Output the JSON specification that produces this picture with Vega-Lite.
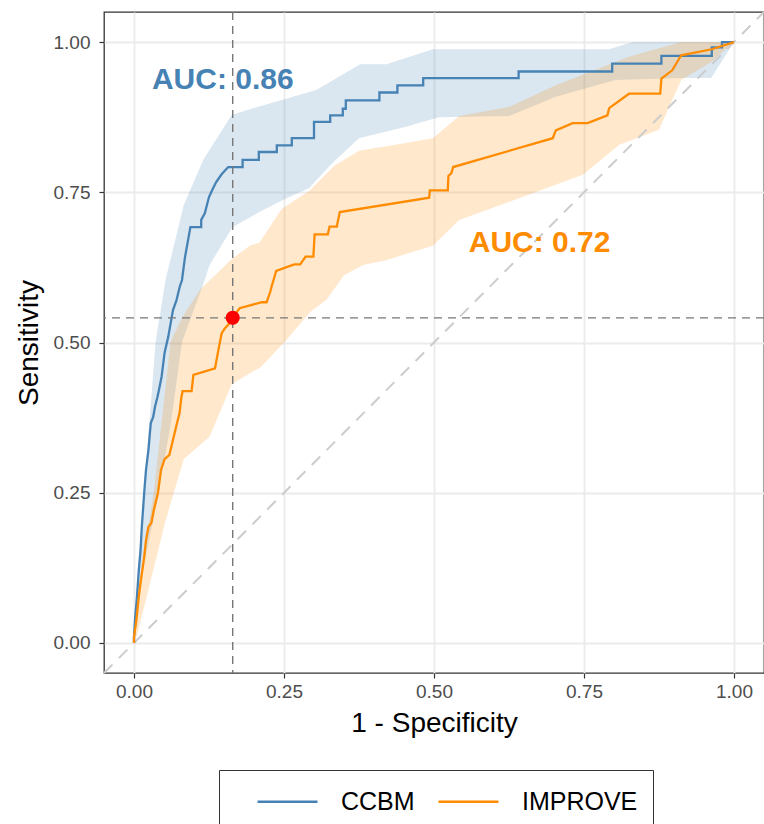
{
"$schema": "https://vega.github.io/schema/vega-lite/v6.json",
"width": 660, "height": 661,
"autosize": {"type": "none"},
"padding": {"left": 104, "top": 12, "right": 0, "bottom": 151},
"background": "white",
"config": {"font": "Liberation Sans", "view": {"stroke": "#333333", "strokeWidth": 1.3}},
"datasets": {
"roc": [
{"model":"CCBM","i":0,"x":0,"y":0},{"model":"CCBM","i":1,"x":0,"y":0.01},{"model":"CCBM","i":2,"x":0.002,"y":0.043},{"model":"CCBM","i":3,"x":0.005,"y":0.077},{"model":"CCBM","i":4,"x":0.008,"y":0.121},{"model":"CCBM","i":5,"x":0.011,"y":0.155},{"model":"CCBM","i":6,"x":0.013,"y":0.193},{"model":"CCBM","i":7,"x":0.017,"y":0.25},{"model":"CCBM","i":8,"x":0.02,"y":0.288},{"model":"CCBM","i":9,"x":0.024,"y":0.321},{"model":"CCBM","i":10,"x":0.028,"y":0.366},{"model":"CCBM","i":11,"x":0.032,"y":0.376},{"model":"CCBM","i":12,"x":0.035,"y":0.393},{"model":"CCBM","i":13,"x":0.039,"y":0.409},{"model":"CCBM","i":14,"x":0.041,"y":0.418},{"model":"CCBM","i":15,"x":0.046,"y":0.443},{"model":"CCBM","i":16,"x":0.051,"y":0.483},{"model":"CCBM","i":17,"x":0.057,"y":0.509},{"model":"CCBM","i":18,"x":0.065,"y":0.554},{"model":"CCBM","i":19,"x":0.071,"y":0.571},{"model":"CCBM","i":20,"x":0.076,"y":0.592},{"model":"CCBM","i":21,"x":0.08,"y":0.604},{"model":"CCBM","i":22,"x":0.085,"y":0.642},{"model":"CCBM","i":23,"x":0.094,"y":0.692},{"model":"CCBM","i":24,"x":0.112,"y":0.692},{"model":"CCBM","i":25,"x":0.112,"y":0.704},{"model":"CCBM","i":26,"x":0.118,"y":0.715},{"model":"CCBM","i":27,"x":0.125,"y":0.742},{"model":"CCBM","i":28,"x":0.131,"y":0.755},{"model":"CCBM","i":29,"x":0.137,"y":0.767},{"model":"CCBM","i":30,"x":0.146,"y":0.78},{"model":"CCBM","i":31,"x":0.157,"y":0.792},{"model":"CCBM","i":32,"x":0.181,"y":0.792},{"model":"CCBM","i":33,"x":0.181,"y":0.804},{"model":"CCBM","i":34,"x":0.208,"y":0.804},{"model":"CCBM","i":35,"x":0.208,"y":0.817},{"model":"CCBM","i":36,"x":0.238,"y":0.817},{"model":"CCBM","i":37,"x":0.238,"y":0.828},{"model":"CCBM","i":38,"x":0.263,"y":0.828},{"model":"CCBM","i":39,"x":0.263,"y":0.84},{"model":"CCBM","i":40,"x":0.3,"y":0.84},{"model":"CCBM","i":41,"x":0.3,"y":0.867},{"model":"CCBM","i":42,"x":0.327,"y":0.867},{"model":"CCBM","i":43,"x":0.327,"y":0.878},{"model":"CCBM","i":44,"x":0.348,"y":0.878},{"model":"CCBM","i":45,"x":0.348,"y":0.889},{"model":"CCBM","i":46,"x":0.353,"y":0.889},{"model":"CCBM","i":47,"x":0.353,"y":0.903},{"model":"CCBM","i":48,"x":0.409,"y":0.903},{"model":"CCBM","i":49,"x":0.409,"y":0.916},{"model":"CCBM","i":50,"x":0.439,"y":0.916},{"model":"CCBM","i":51,"x":0.439,"y":0.928},{"model":"CCBM","i":52,"x":0.482,"y":0.928},{"model":"CCBM","i":53,"x":0.482,"y":0.94},{"model":"CCBM","i":54,"x":0.641,"y":0.94},{"model":"CCBM","i":55,"x":0.641,"y":0.951},{"model":"CCBM","i":56,"x":0.797,"y":0.951},{"model":"CCBM","i":57,"x":0.797,"y":0.964},{"model":"CCBM","i":58,"x":0.879,"y":0.964},{"model":"CCBM","i":59,"x":0.879,"y":0.977},{"model":"CCBM","i":60,"x":0.963,"y":0.977},{"model":"CCBM","i":61,"x":0.963,"y":0.991},{"model":"CCBM","i":62,"x":0.98,"y":0.991},{"model":"CCBM","i":63,"x":0.98,"y":1.0},{"model":"CCBM","i":64,"x":1,"y":1},
{"model":"IMPROVE","i":0,"x":0,"y":0},{"model":"IMPROVE","i":1,"x":0,"y":0.01},{"model":"IMPROVE","i":2,"x":0.004,"y":0.038},{"model":"IMPROVE","i":3,"x":0.008,"y":0.077},{"model":"IMPROVE","i":4,"x":0.012,"y":0.108},{"model":"IMPROVE","i":5,"x":0.017,"y":0.143},{"model":"IMPROVE","i":6,"x":0.02,"y":0.171},{"model":"IMPROVE","i":7,"x":0.024,"y":0.193},{"model":"IMPROVE","i":8,"x":0.029,"y":0.2},{"model":"IMPROVE","i":9,"x":0.033,"y":0.221},{"model":"IMPROVE","i":10,"x":0.04,"y":0.25},{"model":"IMPROVE","i":11,"x":0.045,"y":0.288},{"model":"IMPROVE","i":12,"x":0.051,"y":0.306},{"model":"IMPROVE","i":13,"x":0.059,"y":0.313},{"model":"IMPROVE","i":14,"x":0.065,"y":0.338},{"model":"IMPROVE","i":15,"x":0.07,"y":0.359},{"model":"IMPROVE","i":16,"x":0.076,"y":0.383},{"model":"IMPROVE","i":17,"x":0.079,"y":0.409},{"model":"IMPROVE","i":18,"x":0.081,"y":0.419},{"model":"IMPROVE","i":19,"x":0.096,"y":0.419},{"model":"IMPROVE","i":20,"x":0.099,"y":0.446},{"model":"IMPROVE","i":21,"x":0.135,"y":0.457},{"model":"IMPROVE","i":22,"x":0.14,"y":0.484},{"model":"IMPROVE","i":23,"x":0.146,"y":0.515},{"model":"IMPROVE","i":24,"x":0.151,"y":0.523},{"model":"IMPROVE","i":25,"x":0.159,"y":0.532},{"model":"IMPROVE","i":26,"x":0.164,"y":0.541},{"model":"IMPROVE","i":27,"x":0.176,"y":0.557},{"model":"IMPROVE","i":28,"x":0.213,"y":0.567},{"model":"IMPROVE","i":29,"x":0.221,"y":0.567},{"model":"IMPROVE","i":30,"x":0.227,"y":0.584},{"model":"IMPROVE","i":31,"x":0.229,"y":0.592},{"model":"IMPROVE","i":32,"x":0.237,"y":0.619},{"model":"IMPROVE","i":33,"x":0.267,"y":0.63},{"model":"IMPROVE","i":34,"x":0.277,"y":0.63},{"model":"IMPROVE","i":35,"x":0.286,"y":0.643},{"model":"IMPROVE","i":36,"x":0.299,"y":0.643},{"model":"IMPROVE","i":37,"x":0.301,"y":0.68},{"model":"IMPROVE","i":38,"x":0.323,"y":0.68},{"model":"IMPROVE","i":39,"x":0.326,"y":0.693},{"model":"IMPROVE","i":40,"x":0.338,"y":0.693},{"model":"IMPROVE","i":41,"x":0.343,"y":0.717},{"model":"IMPROVE","i":42,"x":0.492,"y":0.741},{"model":"IMPROVE","i":43,"x":0.493,"y":0.753},{"model":"IMPROVE","i":44,"x":0.523,"y":0.753},{"model":"IMPROVE","i":45,"x":0.524,"y":0.777},{"model":"IMPROVE","i":46,"x":0.529,"y":0.782},{"model":"IMPROVE","i":47,"x":0.532,"y":0.792},{"model":"IMPROVE","i":48,"x":0.698,"y":0.84},{"model":"IMPROVE","i":49,"x":0.703,"y":0.853},{"model":"IMPROVE","i":50,"x":0.731,"y":0.865},{"model":"IMPROVE","i":51,"x":0.756,"y":0.865},{"model":"IMPROVE","i":52,"x":0.789,"y":0.878},{"model":"IMPROVE","i":53,"x":0.792,"y":0.89},{"model":"IMPROVE","i":54,"x":0.825,"y":0.914},{"model":"IMPROVE","i":55,"x":0.877,"y":0.914},{"model":"IMPROVE","i":56,"x":0.879,"y":0.939},{"model":"IMPROVE","i":57,"x":0.897,"y":0.953},{"model":"IMPROVE","i":58,"x":0.912,"y":0.978},{"model":"IMPROVE","i":59,"x":0.963,"y":0.988},{"model":"IMPROVE","i":60,"x":1,"y":1}
],
"band": [
{"model":"CCBM","i":0,"x":0,"y":0},{"model":"CCBM","i":1,"x":0.0055,"y":0.113},{"model":"CCBM","i":2,"x":0.022,"y":0.318},{"model":"CCBM","i":3,"x":0.036,"y":0.501},{"model":"CCBM","i":4,"x":0.053,"y":0.606},{"model":"CCBM","i":5,"x":0.083,"y":0.729},{"model":"CCBM","i":6,"x":0.116,"y":0.805},{"model":"CCBM","i":7,"x":0.163,"y":0.879},{"model":"CCBM","i":8,"x":0.216,"y":0.895},{"model":"CCBM","i":9,"x":0.304,"y":0.92},{"model":"CCBM","i":10,"x":0.377,"y":0.963},{"model":"CCBM","i":11,"x":0.421,"y":0.963},{"model":"CCBM","i":12,"x":0.498,"y":0.988},{"model":"CCBM","i":13,"x":0.792,"y":0.988},{"model":"CCBM","i":14,"x":0.831,"y":1.0},{"model":"CCBM","i":15,"x":1,"y":1},{"model":"CCBM","i":16,"x":0.962,"y":0.94},{"model":"CCBM","i":17,"x":0.912,"y":0.94},{"model":"CCBM","i":18,"x":0.802,"y":0.937},{"model":"CCBM","i":19,"x":0.703,"y":0.909},{"model":"CCBM","i":20,"x":0.625,"y":0.877},{"model":"CCBM","i":21,"x":0.508,"y":0.875},{"model":"CCBM","i":22,"x":0.453,"y":0.859},{"model":"CCBM","i":23,"x":0.375,"y":0.84},{"model":"CCBM","i":24,"x":0.331,"y":0.799},{"model":"CCBM","i":25,"x":0.292,"y":0.757},{"model":"CCBM","i":26,"x":0.248,"y":0.737},{"model":"CCBM","i":27,"x":0.209,"y":0.717},{"model":"CCBM","i":28,"x":0.164,"y":0.692},{"model":"CCBM","i":29,"x":0.126,"y":0.629},{"model":"CCBM","i":30,"x":0.115,"y":0.596},{"model":"CCBM","i":31,"x":0.08,"y":0.501},{"model":"CCBM","i":32,"x":0.061,"y":0.363},{"model":"CCBM","i":33,"x":0.039,"y":0.24},{"model":"CCBM","i":34,"x":0.005,"y":0.073},{"model":"CCBM","i":35,"x":0,"y":0},
{"model":"IMPROVE","i":0,"x":0,"y":0},{"model":"IMPROVE","i":1,"x":0.005,"y":0.072},{"model":"IMPROVE","i":2,"x":0.033,"y":0.251},{"model":"IMPROVE","i":3,"x":0.061,"y":0.501},{"model":"IMPROVE","i":4,"x":0.08,"y":0.541},{"model":"IMPROVE","i":5,"x":0.111,"y":0.589},{"model":"IMPROVE","i":6,"x":0.163,"y":0.639},{"model":"IMPROVE","i":7,"x":0.194,"y":0.662},{"model":"IMPROVE","i":8,"x":0.209,"y":0.666},{"model":"IMPROVE","i":9,"x":0.246,"y":0.722},{"model":"IMPROVE","i":10,"x":0.292,"y":0.752},{"model":"IMPROVE","i":11,"x":0.334,"y":0.794},{"model":"IMPROVE","i":12,"x":0.375,"y":0.819},{"model":"IMPROVE","i":13,"x":0.453,"y":0.832},{"model":"IMPROVE","i":14,"x":0.498,"y":0.84},{"model":"IMPROVE","i":15,"x":0.542,"y":0.877},{"model":"IMPROVE","i":16,"x":0.625,"y":0.892},{"model":"IMPROVE","i":17,"x":0.703,"y":0.928},{"model":"IMPROVE","i":18,"x":0.824,"y":0.975},{"model":"IMPROVE","i":19,"x":0.912,"y":1.0},{"model":"IMPROVE","i":20,"x":1,"y":1},{"model":"IMPROVE","i":21,"x":0.962,"y":0.967},{"model":"IMPROVE","i":22,"x":0.912,"y":0.937},{"model":"IMPROVE","i":23,"x":0.875,"y":0.854},{"model":"IMPROVE","i":24,"x":0.809,"y":0.829},{"model":"IMPROVE","i":25,"x":0.748,"y":0.779},{"model":"IMPROVE","i":26,"x":0.669,"y":0.75},{"model":"IMPROVE","i":27,"x":0.542,"y":0.704},{"model":"IMPROVE","i":28,"x":0.498,"y":0.661},{"model":"IMPROVE","i":29,"x":0.42,"y":0.637},{"model":"IMPROVE","i":30,"x":0.382,"y":0.629},{"model":"IMPROVE","i":31,"x":0.35,"y":0.612},{"model":"IMPROVE","i":32,"x":0.321,"y":0.571},{"model":"IMPROVE","i":33,"x":0.294,"y":0.551},{"model":"IMPROVE","i":34,"x":0.251,"y":0.501},{"model":"IMPROVE","i":35,"x":0.211,"y":0.459},{"model":"IMPROVE","i":36,"x":0.163,"y":0.431},{"model":"IMPROVE","i":37,"x":0.126,"y":0.343},{"model":"IMPROVE","i":38,"x":0.083,"y":0.306},{"model":"IMPROVE","i":39,"x":0.053,"y":0.205},{"model":"IMPROVE","i":40,"x":0.005,"y":0.012},{"model":"IMPROVE","i":41,"x":0,"y":0}
]
},
"layer": [
{
"data": {"name": "band"},
"transform": [{"filter": "datum.model == 'CCBM'"}],
"mark": {"type": "line", "fill": "#4682B4", "fillOpacity": 0.2, "strokeWidth": 0},
"encoding": {
"x": {"field": "x", "type": "quantitative", "scale": {"domain": [-0.05, 1.05], "nice": false, "zero": false},
 "axis": {"values": [0, 0.25, 0.5, 0.75, 1], "format": ".2f", "title": "1 - Specificity", "grid": true, "gridColor": "#EBEBEB", "gridWidth": 1.8, "domain": false, "tickColor": "#333333", "tickSize": 5, "tickWidth": 1.2, "labelColor": "#4D4D4D", "labelFontSize": 19, "labelPadding": 4, "titleFontSize": 28, "titleFontWeight": "normal", "titleColor": "#000000", "titlePadding": 8}},
"y": {"field": "y", "type": "quantitative", "scale": {"domain": [-0.05, 1.05], "nice": false, "zero": false},
 "axis": {"values": [0, 0.25, 0.5, 0.75, 1], "format": ".2f", "title": "Sensitivity", "grid": true, "gridColor": "#EBEBEB", "gridWidth": 1.8, "domain": false, "tickColor": "#333333", "tickSize": 5, "tickWidth": 1.2, "labelColor": "#4D4D4D", "labelFontSize": 19, "labelPadding": 9, "titleFontSize": 28, "titleFontWeight": "normal", "titleColor": "#000000", "titlePadding": 10}},
"order": {"field": "i", "type": "quantitative"}
}
},
{
"data": {"name": "band"},
"transform": [{"filter": "datum.model == 'IMPROVE'"}],
"mark": {"type": "line", "fill": "#FF8C00", "fillOpacity": 0.2, "strokeWidth": 0},
"encoding": {
"x": {"field": "x", "type": "quantitative", "title": "1 - Specificity"},
"y": {"field": "y", "type": "quantitative", "title": "Sensitivity"},
"order": {"field": "i", "type": "quantitative"}
}
},
{
"data": {"values": [{"x": -0.05, "y": -0.05, "x2": 1.05, "y2": 1.05}]},
"mark": {"type": "rule", "color": "#CCCCCC", "strokeWidth": 2, "strokeDash": [12, 9]},
"encoding": {
"x": {"field": "x", "type": "quantitative", "title": "1 - Specificity"},
"y": {"field": "y", "type": "quantitative", "title": "Sensitivity"},
"x2": {"field": "x2"}, "y2": {"field": "y2"}
}
},
{
"data": {"name": "roc"},
"mark": {"type": "line", "strokeWidth": 2.3},
"encoding": {
"x": {"field": "x", "type": "quantitative", "title": "1 - Specificity"},
"y": {"field": "y", "type": "quantitative", "title": "Sensitivity"},
"color": {"field": "model", "type": "nominal", "scale": {"domain": ["CCBM", "IMPROVE"], "range": ["#4682B4", "#FF8C00"]},
 "legend": {"title": null, "orient": "none", "legendX": 115, "legendY": 758, "direction": "horizontal", "padding": 15, "symbolOffset": 37, "labelOffset": 37, "columnPadding": 0, "symbolType": "M-2,0H2", "symbolSize": 900, "symbolStrokeWidth": 2.5, "labelFontSize": 25, "labelColor": "#000000", "strokeColor": "#333333", "cornerRadius": 0, "fillColor": "white"}},
"order": {"field": "i", "type": "quantitative"}
}
},
{
"data": {"values": [{"x": 0.1645}]},
"mark": {"type": "rule", "color": "#777777", "strokeWidth": 1.4, "strokeDash": [8, 6]},
"encoding": {"x": {"field": "x", "type": "quantitative", "title": "1 - Specificity"}}
},
{
"data": {"values": [{"y": 0.541}]},
"mark": {"type": "rule", "color": "#777777", "strokeWidth": 1.4, "strokeDash": [8, 6]},
"encoding": {"y": {"field": "y", "type": "quantitative", "title": "Sensitivity"}}
},
{
"data": {"values": [{"x": 0.1645, "y": 0.541}]},
"mark": {"type": "circle", "color": "#FF0000", "opacity": 1, "size": 200},
"encoding": {
"x": {"field": "x", "type": "quantitative", "title": "1 - Specificity"},
"y": {"field": "y", "type": "quantitative", "title": "Sensitivity"}
}
},
{
"data": {"values": [{"x": 0.148, "y": 0.937, "label": "AUC: 0.86"}]},
"mark": {"type": "text", "color": "#4682B4", "fontSize": 30, "fontWeight": "bold", "align": "center", "baseline": "middle"},
"encoding": {
"x": {"field": "x", "type": "quantitative", "title": "1 - Specificity"},
"y": {"field": "y", "type": "quantitative", "title": "Sensitivity"},
"text": {"field": "label"}
}
},
{
"data": {"values": [{"x": 0.676, "y": 0.666, "label": "AUC: 0.72"}]},
"mark": {"type": "text", "color": "#FF8C00", "fontSize": 30, "fontWeight": "bold", "align": "center", "baseline": "middle"},
"encoding": {
"x": {"field": "x", "type": "quantitative", "title": "1 - Specificity"},
"y": {"field": "y", "type": "quantitative", "title": "Sensitivity"},
"text": {"field": "label"}
}
}
]
}
